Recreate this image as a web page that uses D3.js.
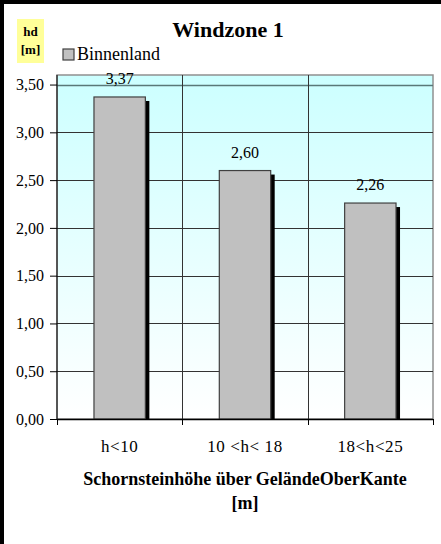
<!DOCTYPE html>
<html><head><meta charset="utf-8">
<script src="https://cdn.jsdelivr.net/npm/d3@7"></script>
<style>body{margin:0;background:#fff}svg{display:block}</style>
</head><body><div id="chart"></div>
<script>
const categories = ["h<10", "10 <h< 18", "18<h<25"];
const values = [3.37, 2.60, 2.26];
const valueLabels = ["3,37", "2,60", "2,26"];
const yTicks = [0, 0.5, 1, 1.5, 2, 2.5, 3, 3.5];
const yTickLabels = ["0,00","0,50","1,00","1,50","2,00","2,50","3,00","3,50"];
const seriesName = "Binnenland";
const title = "Windzone 1";
const xTitle = ["Schornsteinhöhe über GeländeOberKante", "[m]"];
const yTitle = ["hd", "[m]"];

(function(){
const FONT = "'Liberation Serif', 'DejaVu Serif', serif";
const W = 441, H = 544;
const svg = d3.select("#chart").append("svg").attr("width", W).attr("height", H)
  .style("font-family", FONT);
const pL = 57, pR = 433, pT = 75, pB = 419;

const defs = svg.append("defs");
const g = defs.append("linearGradient").attr("id","bg").attr("x1",0).attr("y1",0).attr("x2",0).attr("y2",1);
g.append("stop").attr("offset","0%").attr("stop-color","#ccffff");
g.append("stop").attr("offset","100%").attr("stop-color","#ffffff");

// outer frame
svg.append("rect").attr("x",0).attr("y",0).attr("width",4).attr("height",H).attr("fill","#000");
svg.append("rect").attr("x",0).attr("y",0).attr("width",W).attr("height",4).attr("fill","#000");

const x = d3.scaleBand().domain(categories).range([pL, pR]).padding(0);
const y = d3.scaleLinear().domain([0, 3.6]).range([pB, pT]);

// plot background
svg.append("rect").attr("x",pL).attr("y",pT).attr("width",pR-pL).attr("height",pB-pT)
  .attr("fill","url(#bg)").attr("stroke","#909090").attr("stroke-width",1.5);

// horizontal gridlines
svg.append("g").selectAll("line").data(yTicks.filter(d=>d>0)).join("line")
  .attr("x1",pL).attr("x2",pR).attr("y1",d=>Math.round(y(d))+0.5).attr("y2",d=>Math.round(y(d))+0.5)
  .attr("stroke",d=>d===3.5?"#5a7878":"#333").attr("stroke-width",d=>d===3.5?1.5:1);

// vertical gridlines at category boundaries
const bounds = categories.slice(1).map(c => x(c));
svg.append("g").selectAll("line").data(bounds).join("line")
  .attr("x1",d=>Math.round(d)+0.5).attr("x2",d=>Math.round(d)+0.5).attr("y1",pT).attr("y2",pB)
  .attr("stroke","#333").attr("stroke-width",1);

// bars
const bw = x.bandwidth()*0.41;
const bars = svg.append("g");
bars.selectAll("rect.sh").data(values).join("rect").attr("class","sh")
  .attr("x",(d,i)=>x(categories[i])+x.bandwidth()/2-bw/2+4).attr("y",d=>y(d)+4)
  .attr("width",bw).attr("height",d=>pB-y(d)-4).attr("fill","#000");
bars.selectAll("rect.b").data(values).join("rect").attr("class","b")
  .attr("x",(d,i)=>x(categories[i])+x.bandwidth()/2-bw/2).attr("y",d=>y(d))
  .attr("width",bw).attr("height",d=>pB-y(d)).attr("fill","#c0c0c0")
  .attr("stroke","#404040").attr("stroke-width",1.2);

// value labels
svg.append("g").selectAll("text").data(values).join("text")
  .attr("x",(d,i)=>x(categories[i])+x.bandwidth()/2).attr("y",d=>y(d)-13)
  .attr("text-anchor","middle").style("font-family",FONT).style("font-size","16px").text((d,i)=>valueLabels[i]);

// axes
const yAxis = d3.axisLeft(y).tickValues(yTicks).tickSize(7).tickFormat((d,i)=>yTickLabels[i]);
const ya = svg.append("g").attr("transform",`translate(${pL},0)`).call(yAxis);
ya.attr("font-family", null).attr("font-size", null);
ya.select(".domain").attr("stroke","#000").attr("d",`M0,${pT}V${pB}`);
ya.selectAll(".tick line").attr("stroke","#000");
ya.selectAll(".tick text").style("font-size","16px").style("font-family",FONT).attr("fill","#000").attr("x",-13);

svg.append("line").attr("x1",pL).attr("x2",pR).attr("y1",pB+0.5).attr("y2",pB+0.5).attr("stroke","#000").attr("stroke-width",1.5);
svg.append("g").selectAll("line").data([pL, ...bounds, pR]).join("line")
  .attr("x1",d=>Math.round(d)+0.5).attr("x2",d=>Math.round(d)+0.5).attr("y1",pB).attr("y2",pB+6).attr("stroke","#000");

svg.append("g").selectAll("text").data(categories).join("text")
  .attr("x",d=>x(d)+x.bandwidth()/2).attr("y",452).attr("text-anchor","middle")
  .style("font-family",FONT).style("font-size","17px").style("letter-spacing","0.6px").text(d=>d);

// axis title
svg.append("g").selectAll("text").data(xTitle).join("text")
  .attr("x",245).attr("y",(d,i)=>485+i*24).attr("text-anchor","middle")
  .style("font-family",FONT).style("font-size","18px").style("font-weight","bold").text(d=>d);

// chart title
svg.append("text").attr("x",228).attr("y",37).attr("text-anchor","middle")
  .style("font-family",FONT).style("font-size","22px").style("font-weight","bold").text(title);

// y title box
svg.append("rect").attr("x",17).attr("y",19).attr("width",27).attr("height",44).attr("fill","#ffff99");
svg.append("g").selectAll("text").data(yTitle).join("text")
  .attr("x",30.5).attr("y",(d,i)=>36+i*18).attr("text-anchor","middle")
  .style("font-family",FONT).style("font-size","13px").style("font-weight","bold").text(d=>d);

// legend
svg.append("rect").attr("x",63).attr("y",49).attr("width",11).attr("height",11).attr("fill","#c0c0c0").attr("stroke","#404040").attr("stroke-width",1.2);
svg.append("text").attr("x",77).attr("y",60).style("font-family",FONT).style("font-size","18px").text(seriesName);
})();
</script></body></html>
